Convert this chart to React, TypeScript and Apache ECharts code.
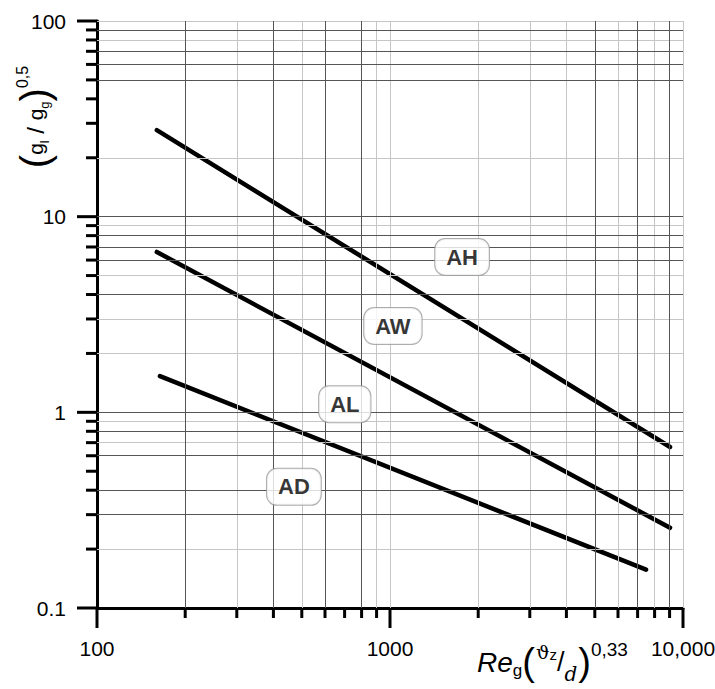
import React, { useEffect, useRef } from "react";
import * as echarts from "echarts";

// Axis ranges and ticks
const xRange = [100, 10000];
const yRange = [0.1, 100];
const xMajorTicks = [100, 1000, 10000];
const xMinorTicks = [200, 300, 400, 500, 600, 700, 800, 900, 2000, 3000, 4000, 5000, 6000, 7000, 8000, 9000];
const yMajorTicks = [0.1, 1, 10, 100];
const yMinorTicks = [0.2, 0.3, 0.4, 0.5, 0.6, 0.7, 0.8, 0.9, 2, 3, 4, 5, 6, 7, 8, 9, 20, 30, 40, 50, 60, 70, 80, 90];
const xTickLabels = ["100", "1000", "10,000"];
const yTickLabels = ["0.1", "1", "10", "100"];

// Grid lines (as drawn in the reference, dark and light)
const xGridDark = [200, 400, 600, 800, 5000, 7000, 9000];
const xGridLight = [300, 500, 900, 1000, 2000, 3000, 4000, 6000, 8000, 10000];
const yGridDark = [90, 70, 60, 50, 10, 8, 7, 6, 4, 1, 0.8, 0.6, 0.4, 0.3];
const yGridLight = [100, 80, 20, 9, 5, 3, 2, 0.9, 0.7, 0.2];

// Series
const seriesNames = ["AH", "AW", "AD"];
const AH = [[160, 27.7], [9030, 0.665]];
const AW = [[160, 6.6], [9030, 0.257]];
const AD = [[164, 1.53], [7480, 0.157]];

// Curve labels (name, x, y)
const labelNames = ["AH", "AW", "AL", "AD"];
const labelX = [1762, 1023, 701, 470];
const labelY = [6.22, 2.76, 1.1, 0.416];

function fmt(labels: string[], ticks: number[]) {
  return (v: number) => {
    for (let i = 0; i < ticks.length; i++) {
      if (Math.abs(v - ticks[i]) / ticks[i] < 1e-6) return labels[i];
    }
    return "";
  };
}

export default function App() {
  const ref = useRef<HTMLDivElement>(null);
  useEffect(() => {
    document.body.style.margin = "0";
    const chart = echarts.init(ref.current!, undefined, { renderer: "svg" });
    const font = "Liberation Sans";
    const dark = { color: "#555", width: 1, type: "solid" };
    const light = { color: "#c6c6c6", width: 1, type: "solid" };
    const gridLines = [
      ...xGridLight.map((v) => ({ xAxis: v, lineStyle: light })),
      ...yGridLight.map((v) => ({ yAxis: v, lineStyle: light })),
      ...xGridDark.map((v) => ({ xAxis: v, lineStyle: dark })),
      ...yGridDark.map((v) => ({ yAxis: v, lineStyle: dark })),
    ];
    const lineSeries = [AH, AW, AD].map((d, i) => ({
      name: seriesNames[i],
      type: "line",
      data: d,
      symbol: "none",
      z: 3,
      lineStyle: { color: "#000", width: 4.5, cap: "round" },
    }));
    chart.setOption({
      animation: false,
      backgroundColor: "#fff",
      grid: { left: 97, right: 32, top: 21, bottom: 81, containLabel: false, outerBoundsMode: "none" },
      xAxis: {
        type: "log",
        min: xRange[0],
        max: xRange[1],
        logBase: 10,
        axisLine: { show: true, lineStyle: { color: "#000", width: 3 } },
        axisTick: { show: false },
        axisLabel: {
          formatter: fmt(xTickLabels, xMajorTicks),
          fontFamily: font,
          fontSize: 21,
          color: "#000",
          margin: 30,
          hideOverlap: false,
        },
        splitLine: { show: false },
      },
      yAxis: {
        type: "log",
        min: yRange[0],
        max: yRange[1],
        logBase: 10,
        axisLine: { show: true, lineStyle: { color: "#000", width: 3 } },
        axisTick: { show: false },
        axisLabel: {
          formatter: fmt(yTickLabels, yMajorTicks),
          fontFamily: font,
          fontSize: 21,
          color: "#000",
          margin: 31,
        },
        splitLine: { show: false },
      },
      series: [
        {
          type: "line",
          data: [],
          z: 1,
          silent: true,
          markLine: {
            silent: true,
            symbol: ["none", "none"],
            label: { show: false },
            emphasis: { disabled: true },
            data: gridLines,
          },
        },
        ...lineSeries,
        {
          type: "scatter",
          z: 5,
          symbolSize: 1,
          itemStyle: { color: "rgba(0,0,0,0)" },
          data: labelNames.map((n, i) => ({ name: n, value: [labelX[i], labelY[i]] })),
          label: {
            show: true,
            position: "inside",
            formatter: "{b}",
            fontFamily: font,
            fontWeight: "bold",
            fontSize: 22,
            color: "#000",
            backgroundColor: "#fff",
            borderColor: "#999",
            borderWidth: 1,
            borderRadius: 10,
            padding: [6, 11, 6, 11],
            lineHeight: 24,
          },
        },
      ],
    });

    // Axis ticks placed through the axes' own scales
    const toPx = (x: number, y: number) => chart.convertToPixel({ gridIndex: 0 }, [x, y]) as number[];
    const origin = toPx(xRange[0], yRange[0]);
    const x0 = origin[0];
    const y0 = origin[1];
    const ticks: any[] = [];
    const addX = (v: number, len: number) => {
      const px = toPx(v, yRange[0])[0];
      ticks.push({ type: "rect", z: 10, shape: { x: px - 1.5, y: y0, width: 3, height: len }, style: { fill: "#000" } });
    };
    const addY = (v: number, len: number) => {
      const py = toPx(xRange[0], v)[1];
      ticks.push({ type: "rect", z: 10, shape: { x: x0 - len, y: py - 1.5, width: len, height: 3 }, style: { fill: "#000" } });
    };
    xMinorTicks.forEach((v) => addX(v, 10));
    xMajorTicks.forEach((v) => addX(v, 20));
    yMinorTicks.forEach((v) => addY(v, 11));
    yMajorTicks.forEach((v) => addY(v, 20));

    chart.setOption({
      graphic: [
        ...ticks,
        {
          type: "text",
          x: 35,
          y: 117,
          rotation: Math.PI / 2,
          style: {
            text: "{p|(}{g|g}{sub|l}{sl| / }{g|g}{sub|g}{p|)}{sup|0,5}",
            align: "center",
            verticalAlign: "middle",
            fill: "#000",
            rich: {
              p: { fontFamily: font, fontSize: 40, fill: "#000", lineHeight: 42 },
              g: { fontFamily: font, fontSize: 21, fill: "#000", verticalAlign: "middle" },
              sub: { fontFamily: font, fontSize: 13, fill: "#000", verticalAlign: "bottom", padding: [0, 0, 5, 0] },
              sl: { fontFamily: font, fontSize: 24, fill: "#000" },
              sup: { fontFamily: font, fontSize: 16, fill: "#000", verticalAlign: "top" },
            },
          },
        },
        {
          type: "text",
          x: 477,
          y: 662,
          style: {
            text: "{it|Re}{sub|g}{p|(}{th|ϑ}{z|z}{sl|/}{d|d}{p|)}{sup|0,33}",
            align: "left",
            verticalAlign: "middle",
            fill: "#000",
            rich: {
              it: { fontFamily: font, fontSize: 28, fontStyle: "italic", fill: "#000", verticalAlign: "middle" },
              sub: { fontFamily: font, fontSize: 17, fill: "#000", verticalAlign: "bottom", padding: [0, 0, 5, 0] },
              p: { fontFamily: font, fontSize: 38, fill: "#000", lineHeight: 44 },
              th: { fontFamily: "DejaVu Serif", fontSize: 19, fill: "#000", verticalAlign: "top", padding: [2, 0, 0, 1] },
              z: { fontFamily: font, fontSize: 15, fill: "#000", verticalAlign: "top", padding: [7, 0, 0, 0] },
              sl: { fontFamily: font, fontSize: 27, fill: "#000" },
              d: { fontFamily: "DejaVu Serif", fontSize: 20, fontStyle: "italic", fill: "#000", verticalAlign: "bottom", padding: [0, 1, 0, 0] },
              sup: { fontFamily: font, fontSize: 19, fill: "#000", verticalAlign: "top" },
            },
          },
        },
      ],
    });
    return () => chart.dispose();
  }, []);
  return <div ref={ref} style={{ width: 715, height: 689, position: "absolute", left: 0, top: 0 }} />;
}
